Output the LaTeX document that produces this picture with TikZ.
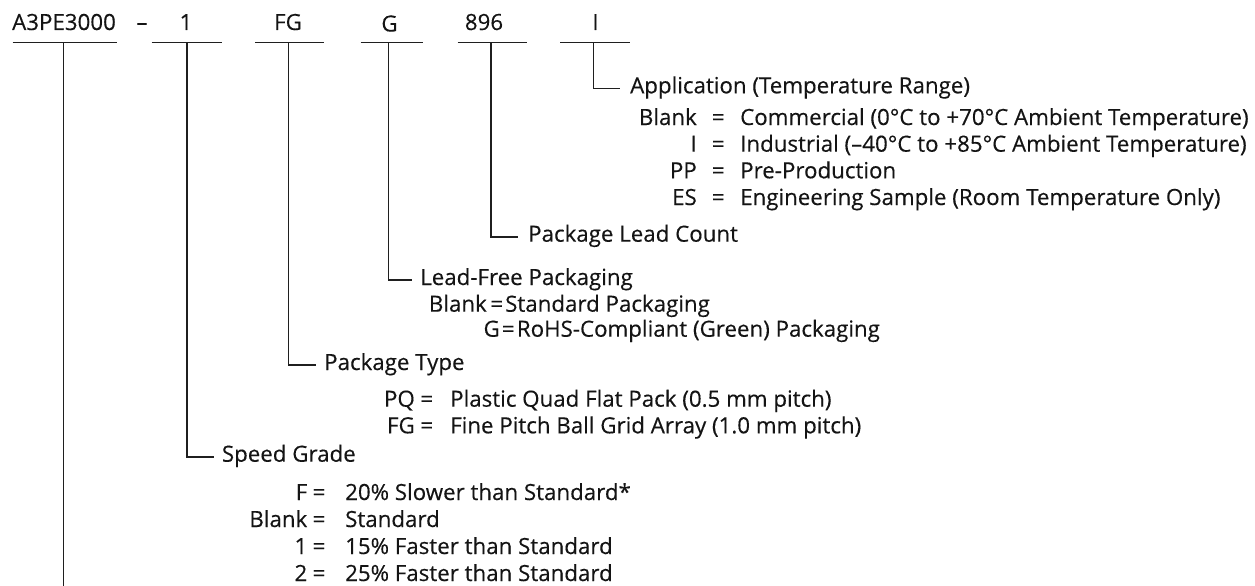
\documentclass[tikz,border=0pt]{standalone}
\usepackage{fontspec}
\setmainfont{Open Sans}[FakeBold=0.35]
\newfontfamily\figfont{Open Sans}[FakeBold=0.35]
\begin{document}
\begin{tikzpicture}[x=1pt,y=-1pt,
  txt/.style={inner sep=0pt, font=\figfont\fontsize{22.3}{27}\selectfont, text=black!92, text height=15pt, text depth=5pt},
  ln/.style={line width=1.6pt, draw=black!88}]
\useasboundingbox (0,0) rectangle (1255,586);

% ---- top code fields
\node[txt, anchor=base] (tA)    at (64,30)    {A3PE3000};
\node[txt, anchor=base] (tdash) at (142,30)   {–};
\node[txt, anchor=base] (t1)    at (186,30)   {1};
\node[txt, anchor=base] (tFG)   at (288,30)   {FG};
\node[txt, anchor=base] (tG)    at (389.5,31.5) {G};
\node[txt, anchor=base] (t896)  at (484,30)   {896};
\node[txt, anchor=base] (tI)    at (595.5,30) {I};

% ---- underlines and their drop points
\coordinate (uA)   at (63.3,42.7);
\coordinate (u1)   at (186.7,42.7);
\coordinate (uFG)  at (288.3,42.7);
\coordinate (uG)   at (388.3,42.7);
\coordinate (u896) at (490.7,42.7);
\coordinate (uI)   at (593.3,42.7);
\draw[ln] (12.7,42.7) -- (116.7,42.7);
\draw[ln] (151.7,42.7) -- (221.7,42.7);
\draw[ln] (255,42.7) -- (324,42.7);
\draw[ln] (360.7,42.7) -- (423,42.7);
\draw[ln] (457.7,42.7) -- (527.3,42.7);
\draw[ln] (560,42.7) -- (630,42.7);

% ---- Application
\node[txt, anchor=base west] (app) at (630,93.3) {Application (Temperature Range)};
\draw[ln] (uI) |- ([xshift=-10pt]app.west);
\node[txt, anchor=base east] (appk1) at (697,125)   {Blank};
\node[txt, anchor=base]      (appe1) at (718.3,125) {=};
\node[txt, anchor=base west] (appv1) at (740,125)   {Commercial (0°C to +70°C Ambient Temperature)};
\node[txt, anchor=base east] (appk2) at (697,151.7)   {I};
\node[txt, anchor=base]      (appe2) at (718.3,151.7) {=};
\node[txt, anchor=base west] (appv2) at (740,151.7)   {Industrial (–40°C to +85°C Ambient Temperature)};
\node[txt, anchor=base east] (appk3) at (697,178.3)   {PP};
\node[txt, anchor=base]      (appe3) at (718.3,178.3) {=};
\node[txt, anchor=base west] (appv3) at (740,178.3)   {Pre-Production};
\node[txt, anchor=base east] (appk4) at (697,205)   {ES};
\node[txt, anchor=base]      (appe4) at (718.3,205) {=};
\node[txt, anchor=base west] (appv4) at (740,205)   {Engineering Sample (Room Temperature Only)};

% ---- Package Lead Count
\node[txt, anchor=base west] (plc) at (528,241.7) {Package Lead Count};
\draw[ln] (u896) |- ([xshift=-10pt]plc.west);

% ---- Lead-Free Packaging
\node[txt, anchor=base west] (lfp) at (420,285) {Lead-Free Packaging};
\draw[ln] (uG) |- ([xshift=-8.3pt]lfp.west);
\node[txt, anchor=base east] (lfk1) at (487,311.7)   {Blank};
\node[txt, anchor=base]      (lfe1) at (496.7,311.7) {=};
\node[txt, anchor=base west] (lfv1) at (505,311.7)   {Standard Packaging};
\node[txt, anchor=base east] (lfk2) at (500,336.7)   {G};
\node[txt, anchor=base]      (lfe2) at (508.3,336.7) {=};
\node[txt, anchor=base west] (lfv2) at (516.7,336.7) {RoHS-Compliant (Green) Packaging};

% ---- Package Type
\node[txt, anchor=base west] (pt) at (324,370) {Package Type};
\draw[ln] (uFG) |- ([xshift=-8pt]pt.west);
\node[txt, anchor=base east] (ptk1) at (415,406.7)   {PQ};
\node[txt, anchor=base]      (pte1) at (426.7,406.7) {=};
\node[txt, anchor=base west] (ptv1) at (450,406.7)   {Plastic Quad Flat Pack (0.5 mm pitch)};
\node[txt, anchor=base east] (ptk2) at (415,433.3)   {FG};
\node[txt, anchor=base]      (pte2) at (426.7,433.3) {=};
\node[txt, anchor=base west] (ptv2) at (450,433.3)   {Fine Pitch Ball Grid Array (1.0 mm pitch)};

% ---- Speed Grade
\node[txt, anchor=base west] (sg) at (221.7,461.7) {Speed Grade};
\draw[ln] (u1) |- ([xshift=-8pt]sg.west);
\node[txt, anchor=base east] (sgk1) at (307.5,500) {F};
\node[txt, anchor=base]      (sge1) at (319,500)   {=};
\node[txt, anchor=base west] (sgv1) at (345,500)   {20\% Slower than Standard*};
\node[txt, anchor=base east] (sgk2) at (307.5,527) {Blank};
\node[txt, anchor=base]      (sge2) at (319,527)   {=};
\node[txt, anchor=base west] (sgv2) at (345,527)   {Standard};
\node[txt, anchor=base east] (sgk3) at (307.5,554) {1};
\node[txt, anchor=base]      (sge3) at (319,554)   {=};
\node[txt, anchor=base west] (sgv3) at (345,554)   {15\% Faster than Standard};
\node[txt, anchor=base east] (sgk4) at (307.5,581) {2};
\node[txt, anchor=base]      (sge4) at (319,581)   {=};
\node[txt, anchor=base west] (sgv4) at (345,581)   {25\% Faster than Standard};

% ---- Device field: its line runs off the bottom
\coordinate (aend) at (63.3,586);
\draw[ln] (uA) -- (aend);
\end{tikzpicture}
\end{document}
